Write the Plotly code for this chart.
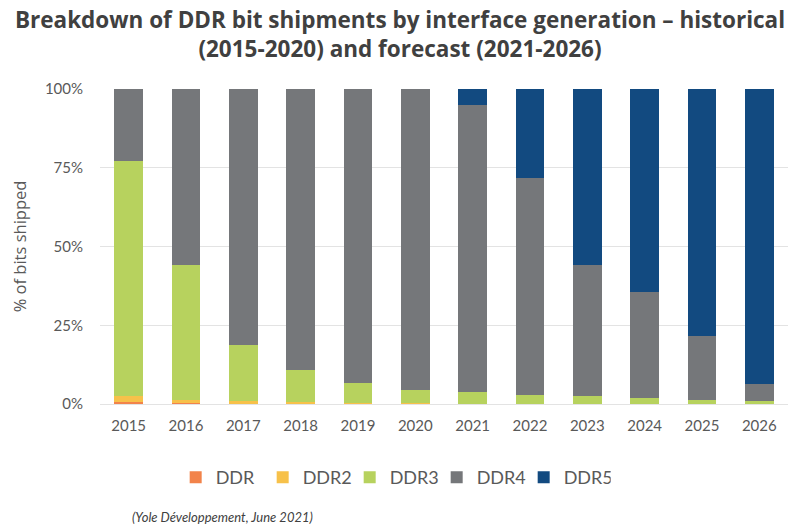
import plotly.graph_objects as go

years = ["2015", "2016", "2017", "2018", "2019", "2020",
         "2021", "2022", "2023", "2024", "2025", "2026"]

# parts des bits livrés, en %
ddr = [0.6, 0.3, 0.2, 0.2, 0.1, 0.1, 0.0, 0.0, 0.0, 0.0, 0.0, 0.0]
ddr2 = [1.9, 1.1, 0.6, 0.4, 0.2, 0.2, 0.1, 0.1, 0.1, 0.0, 0.0, 0.0]
ddr3 = [74.6, 42.8, 17.9, 10.2, 6.3, 4.1, 3.6, 2.9, 2.3, 1.8, 1.3, 0.9]
ddr4 = [22.9, 55.8, 81.3, 89.2, 93.4, 95.6, 91.2, 68.9, 41.6, 33.6, 20.2, 5.4]
ddr5 = [0.0, 0.0, 0.0, 0.0, 0.0, 0.0, 5.1, 28.1, 56.0, 64.6, 78.5, 93.7]

series = [
    ("DDR", ddr, "#f2834a"),
    ("DDR2", ddr2, "#f7c14a"),
    ("DDR3", ddr3, "#b7d25e"),
    ("DDR4", ddr4, "#75777a"),
    ("DDR5", ddr5, "#124a80"),
]

fig = go.Figure()
for name, vals, color in series:
    fig.add_trace(go.Bar(
        x=years, y=vals, name=name,
        marker=dict(color=color, line=dict(width=0)),
        width=0.5,
    ))

fig.update_layout(
    barmode="stack",
    width=800, height=531,
    paper_bgcolor="white", plot_bgcolor="white",
    margin=dict(l=100, r=12, t=89, b=127),
    font=dict(family="Lato", color="#595959", size=15),
    title=dict(
        text="Breakdown of DDR bit shipments by interface generation – historical<br>(2015-2020) and forecast (2021-2026)",
        x=0.5, xanchor="center", y=0.947, yanchor="middle",
        font=dict(family="Open Sans", size=22.5, color="#404040", weight="bold"),
    ),
    legend=dict(
        orientation="h", x=0.11, xanchor="left", y=-0.175, yanchor="top",
        traceorder="normal",
        font=dict(size=18, color="#595959"),
        itemwidth=30, entrywidth=42,
    ),
    showlegend=True,
)

fig.update_yaxes(
    range=[0, 100], tickvals=[0, 25, 50, 75, 100],
    ticktext=["0%", "25%", "50%", "75%", "100%"],
    showgrid=True, gridcolor="#e3e3e3", gridwidth=1,
    zeroline=False, showline=False, ticks="",
    ticklabelstandoff=16,
    title=dict(text="% of bits shipped",
               font=dict(family="Open Sans", size=16.5, color="#595959"),
               standoff=14),
)
fig.update_xaxes(showline=True, linecolor="#e3e3e3", ticks="",
                 ticklabelstandoff=8, tickfont=dict(size=15))

fig.add_annotation(
    text="(Yole Développement, June 2021)",
    xref="paper", yref="paper", x=0.044, y=-0.359, xanchor="left", yanchor="middle",
    showarrow=False, font=dict(size=13, color="#404040", style="italic"),
)

fig.write_html("out.html", config={"displayModeBar": False},
               post_script="document.body.style.margin='0px';")
